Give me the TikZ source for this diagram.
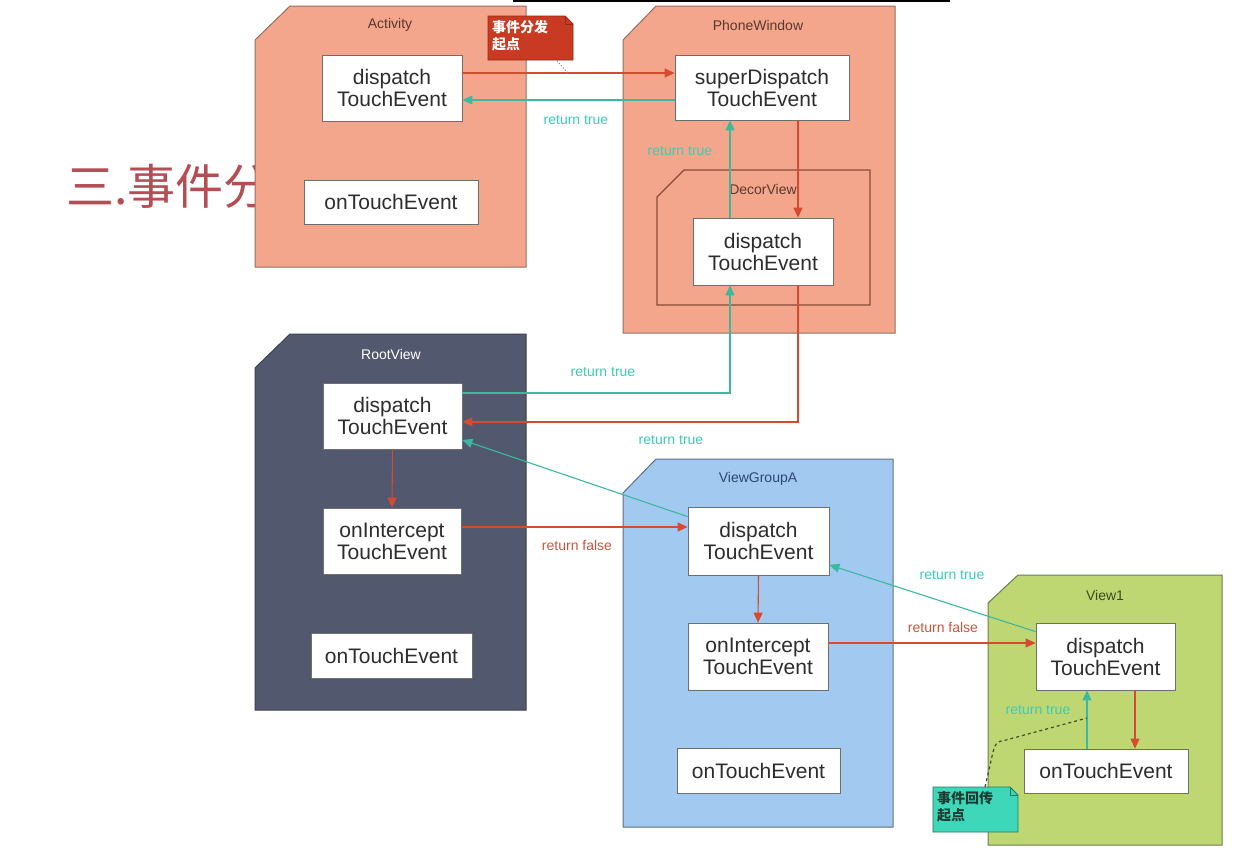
\documentclass[tikz,border=0pt]{standalone}
\usepackage{fontspec}
\setmainfont{Liberation Sans}
\newfontfamily\cjk{Noto Sans CJK SC}
\usetikzlibrary{arrows.meta}
\definecolor{salmon}{RGB}{244,166,140}
\definecolor{salmonline}{RGB}{150,110,100}
\definecolor{decorline}{RGB}{135,75,55}
\definecolor{rootfill}{RGB}{82,88,110}
\definecolor{rootline}{RGB}{60,64,80}
\definecolor{vgafill}{RGB}{162,201,240}
\definecolor{vgaline}{RGB}{95,110,135}
\definecolor{v1fill}{RGB}{190,215,115}
\definecolor{v1line}{RGB}{110,125,75}
\definecolor{arrred}{RGB}{214,74,48}
\definecolor{arrteal}{RGB}{58,185,160}
\definecolor{lblteal}{RGB}{60,205,180}
\definecolor{lblred}{RGB}{205,85,62}
\definecolor{notered}{RGB}{200,58,34}
\definecolor{noteredline}{RGB}{150,40,25}
\definecolor{noteteal}{RGB}{62,215,185}
\definecolor{notetealline}{RGB}{30,120,100}
\definecolor{notetealtext}{RGB}{30,60,50}
\definecolor{dashcol}{RGB}{60,80,40}
\definecolor{titlered}{RGB}{181,77,84}
\definecolor{textgray}{RGB}{45,45,45}
\definecolor{boxline}{RGB}{110,110,110}
\definecolor{salmontext}{RGB}{90,55,45}
\definecolor{vgatext}{RGB}{45,70,120}
\definecolor{v1text}{RGB}{60,75,30}
\begin{document}
\begin{tikzpicture}[x=1pt,y=-1pt,
  box/.style={draw=boxline, fill=white, line width=0.8pt, inner sep=0pt, align=center,
    font=\fontsize{21}{22}\selectfont, text=textgray},
  ctitle/.style={inner sep=0pt, font=\fontsize{14}{16}\selectfont},
  lbl/.style={inner sep=0pt, font=\fontsize{14}{16}\selectfont},
  redarr/.style={draw=arrred, line width=1.1pt, -{Triangle[length=10pt,width=9pt]}},
  tealarr/.style={draw=arrteal, line width=1.1pt, -{Triangle[length=10pt,width=9pt]}},
  notetext/.style={inner sep=0pt, align=left, font=\cjk\bfseries\fontsize{14}{17}\selectfont}]
\useasboundingbox (0,0) rectangle (1240,854);
\fill[white] (0,0) rectangle (1240,854);
\draw[line width=2.5pt] (513,1) -- (950,1);

% title (partly covered)
\node[anchor=west, inner sep=0pt, text=titlered, font=\cjk\fontsize{48}{48}\selectfont] (title) at (66,186) {三.事件分};

% containers
\path[fill=salmon, draw=salmonline, line width=1pt] (255,40) -- (290,6) -- (526,6) -- (526,267) -- (255,267) -- cycle;
\path[fill=salmon, draw=salmonline, line width=1pt] (623,40) -- (656,6) -- (895,6) -- (895,333) -- (623,333) -- cycle;
\path[fill=salmon, draw=decorline, line width=1.2pt] (657,197) -- (684,170) -- (870,170) -- (870,305) -- (657,305) -- cycle;
\path[fill=rootfill, draw=rootline, line width=1pt] (255,368) -- (290,334) -- (526,334) -- (526,710) -- (255,710) -- cycle;
\path[fill=vgafill, draw=vgaline, line width=1pt] (623,493) -- (656,459) -- (893,459) -- (893,827) -- (623,827) -- cycle;
\path[fill=v1fill, draw=v1line, line width=1pt] (988,603) -- (1018,575) -- (1222,575) -- (1222,845) -- (988,845) -- cycle;

% container titles
\node[ctitle, text=salmontext] (t-act) at (390,25) {Activity};
\node[ctitle, text=salmontext] (t-pw) at (758,25) {PhoneWindow};
\node[ctitle, text=salmontext] (t-dec) at (763,189) {DecorView};
\node[ctitle, text=white] (t-root) at (391,354) {RootView};
\node[ctitle, text=vgatext] (t-vga) at (758,479) {ViewGroupA};
\node[ctitle, text=v1text] (t-v1) at (1105,595) {View1};

% method boxes
\node[box, minimum width=140pt, minimum height=66pt] (act-d) at (392,88) {dispatch\\TouchEvent};
\node[box, minimum width=174pt, minimum height=44pt] (act-t) at (391,202) {onTouchEvent};
\node[box, minimum width=174pt, minimum height=65pt] (sup) at (762,87.5) {superDispatch\\TouchEvent};
\node[box, minimum width=140pt, minimum height=67pt] (dec) at (763,251.5) {dispatch\\TouchEvent};
\node[box, minimum width=139pt, minimum height=66pt] (root-d) at (392.5,416) {dispatch\\TouchEvent};
\node[box, minimum width=138pt, minimum height=66pt] (root-i) at (392,541) {onIntercept\\TouchEvent};
\node[box, minimum width=161pt, minimum height=45pt] (root-t) at (391.5,655.5) {onTouchEvent};
\node[box, minimum width=141pt, minimum height=68pt] (vga-d) at (758.5,541) {dispatch\\TouchEvent};
\node[box, minimum width=140pt, minimum height=67pt] (vga-i) at (758,656.5) {onIntercept\\TouchEvent};
\node[box, minimum width=163pt, minimum height=45pt] (vga-t) at (758.5,770.5) {onTouchEvent};
\node[box, minimum width=139pt, minimum height=67pt] (v1-d) at (1105.5,656.5) {dispatch\\TouchEvent};
\node[box, minimum width=164pt, minimum height=44pt] (v1-t) at (1106,771) {onTouchEvent};

% connectors
\draw[redarr] (act-d.east |- 0,73) -- (sup.west |- 0,73);
\draw[tealarr] (sup.west |- 0,100) -- (act-d.east |- 0,100);
\draw[redarr] (sup.south -| 798,0) -- (dec.north -| 798,0);
\draw[tealarr] (dec.north -| 730,0) -- (sup.south -| 730,0);
\draw[tealarr] (root-d.east |- 0,393) -| (dec.south -| 730,0);
\draw[redarr] (dec.south -| 798,0) |- (root-d.east |- 0,422);
\draw[tealarr] (vga-d.north west) ++(0,10) -- (root-d.east |- 0,440);
\draw[redarr] (root-d.south) -- (root-i.north);
\draw[redarr] (root-i.east |- 0,527) -- (vga-d.west |- 0,527);
\draw[redarr] (vga-d.south) -- (vga-i.north);
\draw[tealarr] (v1-d.north west) ++(0,9) -- (vga-d.east |- 0,565);
\draw[redarr] (vga-i.east |- 0,643) -- (v1-d.west |- 0,643);
\draw[redarr] (v1-d.south -| 1135,0) -- (v1-t.north -| 1135,0);
\draw[tealarr] (v1-t.north -| 1087,0) -- (v1-d.south -| 1087,0);

% labels
\node[lbl, text=lblteal] (l1) at (576,120) {return true};
\node[lbl, text=lblteal] (l2) at (680,151) {return true};
\node[lbl, text=lblteal] (l3) at (603,372) {return true};
\node[lbl, text=lblteal] (l4) at (671,440) {return true};
\node[lbl, text=lblred] (l5) at (577,545) {return false};
\node[lbl, text=lblteal] (l6) at (952,575) {return true};
\node[lbl, text=lblred] (l7) at (943,627) {return false};
\node[lbl, text=lblteal] (l8) at (1038,710) {return true};

% notes
\path[fill=notered, draw=noteredline, line width=0.8pt] (488,16) -- (565,16) -- (573,24) -- (573,60) -- (488,60) -- cycle;
\draw[noteredline, line width=0.8pt] (565,16) -- (565,24) -- (573,24);
\node[notetext, text=white, anchor=north west] (n1) at (492,20) {事件分发\\起点};
\coordinate (tip1) at (568,73);
\draw[gray, dotted, line width=1pt] (557,61) -- (tip1);

\path[fill=noteteal, draw=notetealline, line width=0.8pt] (933,787) -- (1010,787) -- (1018,795) -- (1018,832) -- (933,832) -- cycle;
\draw[notetealline, line width=0.8pt] (1010,787) -- (1010,795) -- (1018,795);
\node[notetext, text=notetealtext, anchor=north west] (n2) at (937,791) {事件回传\\起点};
\coordinate (tip2) at (1087,718);
\draw[dashcol, dashed, line width=1.2pt] (985,787) -- (993,752) .. controls (996,742) .. (1006,740) -- (tip2);
\end{tikzpicture}
\end{document}
